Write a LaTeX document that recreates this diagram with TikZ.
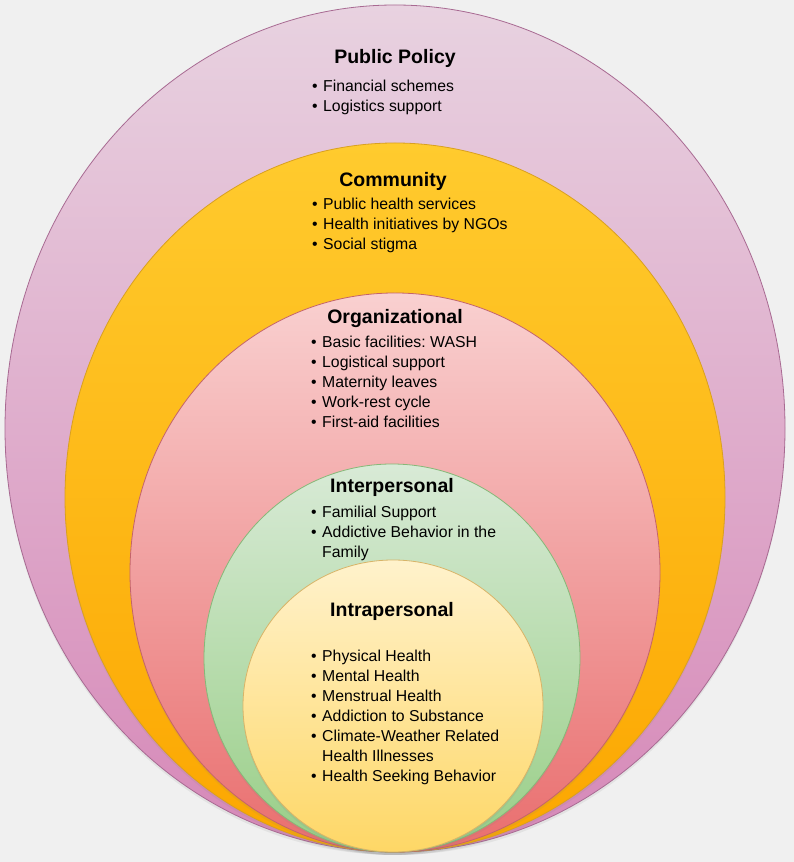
\documentclass[tikz,border=0pt]{standalone}
\usepackage{fontspec}
\setmainfont{Liberation Sans}
\usepackage{xcolor}
\usetikzlibrary{shadows}
\frenchspacing

\definecolor{bgGray}{HTML}{F0F0F0}
\definecolor{ppTop}{HTML}{E8D2E0}
\definecolor{ppBot}{HTML}{D688B8}
\definecolor{ppLine}{HTML}{A86A92}
\definecolor{comTop}{HTML}{FFCB2E}
\definecolor{comBot}{HTML}{FCA600}
\definecolor{comLine}{HTML}{D9A020}
\definecolor{orgTop}{HTML}{F9D0D0}
\definecolor{orgBot}{HTML}{E96E6E}
\definecolor{orgLine}{HTML}{C4646A}
\definecolor{intTop}{HTML}{D8EAD6}
\definecolor{intBot}{HTML}{98CE86}
\definecolor{intLine}{HTML}{86B878}
\definecolor{itrTop}{HTML}{FFF2CC}
\definecolor{itrBot}{HTML}{FED766}
\definecolor{itrLine}{HTML}{D8B468}

\newcommand{\bitem}[1]{\makebox[11pt][l]{\textbullet}#1}
\newcommand{\bcont}[1]{\hspace*{11pt}#1}

\begin{document}
\begin{tikzpicture}[
    x=1pt, y=1pt,
    ring/.style={draw=#1Line, line width=0.8pt, top color=#1Top, bottom color=#1Bot,
        drop shadow={opacity=0.12, shadow xshift=0pt, shadow yshift=-3pt}},
    title/.style={font=\fontsize{19.5}{23}\selectfont\bfseries, inner sep=0pt},
    items/.style={font=\fontsize{15.8}{20}\selectfont, align=left, anchor=north west, inner sep=0pt}
]
\useasboundingbox (0,0) rectangle (794,862);
\fill[bgGray] (0,0) rectangle (794,862);

% nested levels, all touching at the bottom
\path[ring=pp]  (395,433.5) ellipse (390 and 423.5);
\path[ring=com] (395,364.5) ellipse (330 and 354.5);
\path[ring=org] (395,289.5) ellipse (265 and 279.5);
\path[ring=int] (392,204)   ellipse (188 and 194);
\path[ring=itr] (393,156)   ellipse (150 and 146);

% public policy
\node[title] (policy) at (395,804) {Public Policy};
\node[items] (policyList) at (312,782) {\bitem{Financial schemes}\\\bitem{Logistics support}};

% community
\node[title] (community) at (393,681) {Community};
\node[items] (communityList) at (312,664) {\bitem{Public health services}\\\bitem{Health initiatives by NGOs}\\\bitem{Social stigma}};

% organizational
\node[title] (organizational) at (395,543) {Organizational};
\node[items] (organizationalList) at (311,526) {\bitem{Basic facilities: WASH}\\\bitem{Logistical support}\\\bitem{Maternity leaves}\\\bitem{Work-rest cycle}\\\bitem{First-aid facilities}};

% interpersonal
\node[title] (interpersonal) at (392,375) {Interpersonal};
\node[items] (interpersonalList) at (311,356) {\bitem{Familial Support}\\\bitem{Addictive Behavior in the}\\\bcont{Family}};

% intrapersonal
\node[title] (intrapersonal) at (392,251) {Intrapersonal};
\node[items] (intrapersonalList) at (311,212) {\bitem{Physical Health}\\\bitem{Mental Health}\\\bitem{Menstrual Health}\\\bitem{Addiction to Substance}\\\bitem{Climate-Weather Related}\\\bcont{Health Illnesses}\\\bitem{Health Seeking Behavior}};
\end{tikzpicture}
\end{document}
